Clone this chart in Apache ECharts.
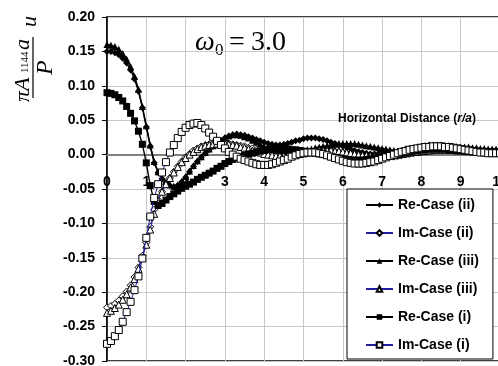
<!DOCTYPE html>
<html>
<head>
<meta charset="utf-8">
<script src="https://cdn.jsdelivr.net/npm/echarts@6/dist/echarts.min.js"></script>
<style>
html,body{margin:0;padding:0;background:#fff;}
#chart{width:498px;height:366px;}
</style>
</head>
<body>
<div id="chart"></div>
<script>
// Horizontal distance r/a
const distance = [0,0.1,0.2,0.3,0.4,0.5,0.6,0.7,0.8,0.9,1,1.1,1.2,1.3,1.4,1.5,1.6,1.7,1.8,1.9,2,2.1,2.2,2.3,2.4,2.5,2.6,2.7,2.8,2.9,3,3.1,3.2,3.3,3.4,3.5,3.6,3.7,3.8,3.9,4,4.1,4.2,4.3,4.4,4.5,4.6,4.7,4.8,4.9,5,5.1,5.2,5.3,5.4,5.5,5.6,5.7,5.8,5.9,6,6.1,6.2,6.3,6.4,6.5,6.6,6.7,6.8,6.9,7,7.1,7.2,7.3,7.4,7.5,7.6,7.7,7.8,7.9,8,8.1,8.2,8.3,8.4,8.5,8.6,8.7,8.8,8.9,9,9.1,9.2,9.3,9.4,9.5,9.6,9.7,9.8,9.9,10];

const reCase2 = [0.150,0.150,0.148,0.145,0.140,0.133,0.123,0.110,0.092,0.068,0.040,0.012,-0.012,-0.026,-0.035,-0.041,-0.045,-0.047,-0.045,-0.040,-0.033,-0.025,-0.017,-0.010,-0.004,0.002,0.007,0.012,0.016,0.020,0.024,0.027,0.029,0.030,0.029,0.028,0.026,0.024,0.022,0.020,0.018,0.016,0.015,0.014,0.014,0.015,0.016,0.018,0.020,0.021,0.023,0.024,0.024,0.024,0.023,0.022,0.020,0.018,0.016,0.014,0.012,0.010,0.008,0.006,0.004,0.003,0.002,0.001,0.001,0.001,0.001,0.002,0.003,0.004,0.005,0.006,0.008,0.009,0.010,0.011,0.012,0.013,0.014,0.014,0.014,0.014,0.013,0.013,0.012,0.011,0.010,0.009,0.008,0.008,0.007,0.006,0.006,0.005,0.005,0.005,0.005];

const imCase2 = [-0.222,-0.220,-0.217,-0.212,-0.206,-0.199,-0.190,-0.178,-0.164,-0.147,-0.128,-0.105,-0.080,-0.066,-0.054,-0.043,-0.034,-0.025,-0.017,-0.010,-0.004,0.001,0.006,0.009,0.012,0.014,0.015,0.016,0.017,0.017,0.017,0.016,0.015,0.014,0.013,0.012,0.010,0.009,0.007,0.005,0.004,0.002,0.001,0.000,0.000,0.000,0.000,0.001,0.001,0.002,0.003,0.004,0.005,0.006,0.006,0.007,0.006,0.006,0.005,0.004,0.003,0.002,0.001,0.000,-0.001,-0.002,-0.003,-0.003,-0.004,-0.004,-0.004,-0.004,-0.003,-0.003,-0.002,-0.001,0.000,0.001,0.002,0.003,0.004,0.005,0.006,0.007,0.007,0.008,0.008,0.008,0.008,0.008,0.008,0.007,0.007,0.006,0.006,0.005,0.005,0.004,0.004,0.003,0.003];

const reCase3 = [0.160,0.159,0.157,0.153,0.147,0.139,0.128,0.114,0.095,0.070,0.042,0.014,-0.010,-0.025,-0.034,-0.040,-0.044,-0.046,-0.044,-0.039,-0.032,-0.024,-0.016,-0.009,-0.003,0.003,0.008,0.013,0.017,0.021,0.025,0.027,0.029,0.029,0.028,0.026,0.024,0.021,0.018,0.015,0.012,0.010,0.008,0.006,0.005,0.004,0.004,0.004,0.004,0.005,0.006,0.007,0.008,0.010,0.011,0.012,0.013,0.014,0.015,0.016,0.016,0.016,0.016,0.016,0.015,0.014,0.013,0.012,0.011,0.010,0.009,0.008,0.007,0.006,0.005,0.005,0.004,0.004,0.004,0.004,0.005,0.005,0.006,0.007,0.008,0.009,0.010,0.010,0.011,0.011,0.011,0.011,0.011,0.010,0.010,0.009,0.009,0.008,0.008,0.008,0.008];

const imCase3 = [-0.230,-0.227,-0.223,-0.218,-0.211,-0.203,-0.193,-0.181,-0.166,-0.150,-0.131,-0.109,-0.086,-0.067,-0.054,-0.043,-0.034,-0.026,-0.018,-0.011,-0.005,0.000,0.004,0.008,0.011,0.013,0.014,0.015,0.016,0.016,0.016,0.015,0.014,0.013,0.011,0.010,0.008,0.006,0.004,0.003,0.001,0.000,-0.001,-0.002,-0.002,-0.002,-0.002,-0.001,0.000,0.001,0.002,0.003,0.004,0.005,0.006,0.006,0.006,0.006,0.005,0.005,0.004,0.003,0.002,0.001,0.000,-0.001,-0.001,-0.002,-0.002,-0.002,-0.002,-0.002,-0.001,-0.001,0.000,0.001,0.002,0.003,0.004,0.004,0.005,0.006,0.006,0.007,0.007,0.007,0.007,0.007,0.007,0.006,0.006,0.006,0.005,0.005,0.005,0.004,0.004,0.004,0.003,0.003,0.003];

const reCase1 = [0.090,0.089,0.087,0.083,0.078,0.070,0.060,0.049,0.034,0.015,-0.012,-0.045,-0.068,-0.074,-0.071,-0.066,-0.061,-0.057,-0.053,-0.049,-0.046,-0.043,-0.040,-0.036,-0.033,-0.030,-0.027,-0.024,-0.020,-0.017,-0.013,-0.010,-0.007,-0.005,-0.003,-0.001,0.001,0.002,0.004,0.005,0.006,0.007,0.008,0.008,0.008,0.008,0.008,0.007,0.007,0.006,0.005,0.004,0.003,0.002,0.001,0.000,-0.001,-0.003,-0.004,-0.005,-0.006,-0.007,-0.008,-0.008,-0.008,-0.008,-0.007,-0.006,-0.005,-0.004,-0.003,-0.002,-0.001,0.000,0.001,0.002,0.003,0.004,0.005,0.006,0.007,0.007,0.008,0.008,0.008,0.008,0.008,0.007,0.007,0.006,0.006,0.005,0.005,0.004,0.004,0.004,0.004,0.004,0.004,0.004,0.004];

const imCase1 = [-0.275,-0.271,-0.264,-0.255,-0.243,-0.229,-0.214,-0.197,-0.177,-0.151,-0.121,-0.090,-0.063,-0.043,-0.026,-0.011,0.003,0.014,0.024,0.033,0.039,0.043,0.045,0.046,0.043,0.038,0.032,0.026,0.020,0.014,0.009,0.004,0.000,-0.003,-0.006,-0.008,-0.010,-0.012,-0.014,-0.015,-0.015,-0.015,-0.014,-0.012,-0.010,-0.008,-0.006,-0.003,-0.001,0.001,0.002,0.003,0.003,0.003,0.002,0.001,-0.001,-0.003,-0.005,-0.007,-0.009,-0.011,-0.012,-0.013,-0.013,-0.013,-0.012,-0.011,-0.010,-0.008,-0.006,-0.004,-0.002,0.000,0.002,0.004,0.005,0.007,0.008,0.009,0.010,0.011,0.011,0.012,0.012,0.012,0.011,0.011,0.010,0.009,0.008,0.007,0.006,0.005,0.004,0.003,0.003,0.002,0.002,0.002,0.002];

const seriesNames = ['Re-Case (ii)','Im-Case (ii)','Re-Case (iii)','Im-Case (iii)','Re-Case (i)','Im-Case (i)'];
const seriesValues = [reCase2, imCase2, reCase3, imCase3, reCase1, imCase1];
const seriesSymbols = ['diamond','diamond','triangle','triangle','rect','rect'];
const seriesIsImag = [false,true,false,true,false,true];

const BLUE = '#1e1e9e';
const SANS = 'Liberation Sans, Arial, sans-serif';
const SERIF = 'Liberation Serif, Times New Roman, serif';

const chart = echarts.init(document.getElementById('chart'));

const series = seriesNames.map((name, k) => {
  const imag = seriesIsImag[k];
  const sym = seriesSymbols[k];
  return {
    name: name,
    type: 'line',
    data: distance.map((x, i) => [x, seriesValues[k][i]]),
    symbol: sym,
    symbolSize: 7,
    showAllSymbol: true,
    lineStyle: { color: imag ? BLUE : '#000', width: imag ? 1 : 1.4 },
    itemStyle: imag ? { color: '#fff', borderColor: '#000', borderWidth: 1 }
                    : { color: '#000', borderColor: '#000', borderWidth: 0 },
    emphasis: { disabled: true },
    z: 3 + k
  };
});

const option = {
  animation: false,
  backgroundColor: '#fff',
  grid: { left: 107, top: 17, width: 393, height: 344, outerBoundsMode: 'none', containLabel: false,
          show: true, borderColor: '#000', borderWidth: 1.5, backgroundColor: 'transparent' },
  xAxis: {
    type: 'value', min: 0, max: 10, interval: 1,
    position: 'bottom', offset: -206,
    axisLine: { onZero: false, lineStyle: { color: '#808080', width: 2 } },
    axisTick: { show: false },
    axisLabel: { margin: 20, color: '#000', fontSize: 14, fontWeight: 'bold', fontFamily: SANS, showMinLabel: true, showMaxLabel: true },
    splitLine: { show: true, lineStyle: { color: '#c8c8c8', width: 1 } }
  },
  yAxis: {
    type: 'value', min: -0.3, max: 0.2, interval: 0.05,
    axisLine: { onZero: false, lineStyle: { color: '#000', width: 1.5 } },
    axisTick: { show: true, length: 5, lineStyle: { color: '#000' } },
    axisLabel: { margin: 12, color: '#000', fontSize: 14, fontWeight: 'bold', fontFamily: SANS, formatter: v => v.toFixed(2) },
    splitLine: { show: true, lineStyle: { color: '#c8c8c8', width: 1 } }
  },
  legend: {
    orient: 'vertical', left: 347, top: 189,
    itemWidth: 27, itemHeight: 7, itemGap: 12,
    padding: [8, 14, 6, 18],
    backgroundColor: '#fff', borderColor: '#000', borderWidth: 1,
    textStyle: { color: '#000', fontSize: 14, fontWeight: 'bold', fontFamily: SANS, lineHeight: 16 },
    data: seriesNames,
    z: 20
  },
  graphic: [
    // plot title omega_0 = 3.0
    { type: 'text', x: 195, y: 42.5, style: { text: 'ω', font: 'italic 28px ' + SERIF, fill: '#000', verticalAlign: 'middle', align: 'left' } },
    { type: 'text', x: 215, y: 51, style: { text: '0', font: '17px ' + SERIF, fill: '#000', verticalAlign: 'middle', align: 'left' } },
    { type: 'text', x: 229, y: 42.5, style: { text: '=', font: '28px ' + SERIF, fill: '#000', verticalAlign: 'middle', align: 'left' } },
    { type: 'text', x: 251, y: 42.5, style: { text: '3.0', font: '28px ' + SERIF, fill: '#000', verticalAlign: 'middle', align: 'left' } },
    // x axis name
    { type: 'text', x: 338, y: 119, z: 10, style: {
        text: '{b|Horizontal Distance (}{i|r/a}{b|)}', verticalAlign: 'middle', align: 'left',
        rich: { b: { font: 'bold 12px ' + SANS, fill: '#000' }, i: { font: 'italic bold 12px ' + SANS, fill: '#000' } } } },
    // y axis title (rotated)
    { type: 'text', x: 23, y: 102, rotation: Math.PI / 2, style: { text: 'πA', font: 'italic 22px ' + SERIF, fill: '#000', verticalAlign: 'middle', align: 'left' } },
    { type: 'text', x: 25, y: 73, rotation: Math.PI / 2, style: { text: '1144', font: '11px ' + SERIF, fill: '#000', verticalAlign: 'middle', align: 'left' } },
    { type: 'text', x: 23, y: 50, rotation: Math.PI / 2, style: { text: 'a', font: 'italic 22px ' + SERIF, fill: '#000', verticalAlign: 'middle', align: 'left' } },
    { type: 'line', shape: { x1: 33, y1: 98, x2: 33, y2: 37 }, style: { stroke: '#000', lineWidth: 1.2 } },
    { type: 'text', x: 46, y: 75, rotation: Math.PI / 2, style: { text: 'P', font: 'italic 24px ' + SERIF, fill: '#000', verticalAlign: 'middle', align: 'left' } },
    { type: 'text', x: 30, y: 27, rotation: Math.PI / 2, style: { text: 'u', font: 'italic 22px ' + SERIF, fill: '#000', verticalAlign: 'middle', align: 'left' } }
  ],
  series: series
};

chart.setOption(option);
</script>
</body>
</html>
